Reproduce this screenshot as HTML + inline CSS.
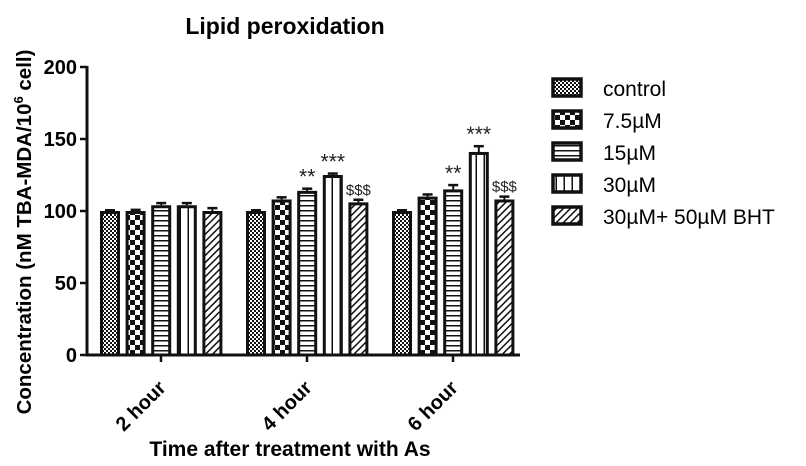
<!DOCTYPE html>
<html><head><meta charset="utf-8"><style>
body{margin:0;background:#fff;width:806px;height:461px;overflow:hidden}
svg text{font-family:"Liberation Sans",Arial,sans-serif}
</style></head><body>
<svg id="c" width="806" height="461">
<defs>
<pattern id="p0" width="4" height="4" patternUnits="userSpaceOnUse"><rect width="4" height="4" fill="#fff"/><rect width="2" height="2" fill="#111"/><rect x="2" y="2" width="2" height="2" fill="#111"/></pattern>
<pattern id="p1" width="10" height="10" patternUnits="userSpaceOnUse"><rect width="10" height="10" fill="#fff"/><rect width="5" height="5" fill="#111"/><rect x="5" y="5" width="5" height="5" fill="#111"/></pattern>
<pattern id="p2" width="6" height="5" patternUnits="userSpaceOnUse"><rect width="6" height="5" fill="#fff"/><rect width="6" height="1.5" fill="#111"/></pattern>
<pattern id="p3" width="8" height="6" patternUnits="userSpaceOnUse"><rect width="8" height="6" fill="#fff"/><rect x="3.5" width="1.5" height="6" fill="#111"/></pattern>
<pattern id="p4" width="5" height="5" patternUnits="userSpaceOnUse" patternTransform="rotate(45)"><rect width="5" height="5" fill="#fff"/><rect width="1.5" height="5" fill="#111"/></pattern>
</defs>
<text x="285" y="34" font-size="23" font-weight="bold" text-anchor="middle">Lipid peroxidation</text>
<text transform="translate(31,232) rotate(-90)" font-size="20.5" font-weight="bold" text-anchor="middle">Concentration (nM TBA-MDA/10<tspan dy="-8" font-size="13">6</tspan><tspan dy="8"> cell)</tspan></text>
<text x="290" y="456" font-size="21" font-weight="bold" text-anchor="middle">Time after treatment with As</text>
<g id="axes"></g><g id="bars"></g><g id="legend"></g>
</svg>
<script>
const categories=["2 hour","4 hour","6 hour"];
const seriesNames=["control","7.5\u00b5M","15\u00b5M","30\u00b5M","30\u00b5M+ 50\u00b5M BHT"];
const values=[[100,100,104,104,100],[100,108,114,125,106],[100,110,115,141,108]];
const errors=[[0.5,0.8,1.5,1.5,2],[0.5,1.5,1.5,1,1.8],[0.5,1.5,3,4,2]];
const marks=[["","","","",""],["","","**","***","$$$"],["","","**","***","$$$"]];
const yTicks=[0,50,100,150,200];
const NS="http://www.w3.org/2000/svg";
const y0=355,yTop=67,yMax=200;
const ys=v=>y0-(v/yMax)*(y0-yTop);
const groupX=i=>100+i*146, barX=(i,j)=>groupX(i)+j*25.6, bw=20;
function mk(t,a,p){const e=document.createElementNS(NS,t);for(const k in a)e.setAttribute(k,a[k]);p.appendChild(e);return e;}
const ax=document.getElementById('axes'),bg=document.getElementById('bars'),lg=document.getElementById('legend');
let yl=mk('line',{x1:87,y1:yTop-1,x2:87,y2:y0+1.5,stroke:'#111','stroke-width':3},ax);


let xl=mk('line',{x1:86,y1:y0,x2:520,y2:y0,stroke:'#111','stroke-width':3},ax);


yTicks.forEach(t=>{
 mk('line',{x1:80,y1:ys(t),x2:87,y2:ys(t),stroke:'#111','stroke-width':2.5},ax);
 const tx=mk('text',{x:77,y:ys(t)+7,'font-size':20,'font-weight':'bold','text-anchor':'end'},ax);tx.textContent=t;
 
 
});
categories.forEach((c,i)=>{
 const cx=groupX(i)+61;
 mk('line',{x1:cx,y1:y0,x2:cx,y2:y0+7,stroke:'#111','stroke-width':2.5},ax);
 const tx=mk('text',{transform:`translate(${cx+6},${y0+34}) rotate(-45)`,'font-size':20,'font-weight':'bold','text-anchor':'end'},ax);tx.textContent=c;
 
 
 values[i].forEach((v,j)=>{
  const x=barX(i,j),top=ys(v),et=ys(v+errors[i][j]);
  mk('line',{x1:x+bw/2,y1:top,x2:x+bw/2,y2:et,stroke:'#111','stroke-width':2},bg);
  mk('line',{x1:x+bw/2-5,y1:et,x2:x+bw/2+5,y2:et,stroke:'#111','stroke-width':2.5},bg);
  const r=mk('rect',{x:x+1.5,y:top+1.5,width:bw-3,height:y0-top-1.5,fill:`url(#p${j})`,stroke:'#111','stroke-width':3},bg);
  
  
  if(marks[i][j]){const m=mk('text',{x:x+bw/2,y:et-5,'font-size':marks[i][j][0]=='$'?15:21,'text-anchor':'middle',fill:'#222'},bg);m.textContent=marks[i][j];
   
   }
 });
});
seriesNames.forEach((s,j)=>{
 const y=79+j*32;
 const g=mk('g',{},lg);
 
 
 mk('rect',{x:553,y:y,width:28,height:17,fill:`url(#p${j})`,stroke:'#111','stroke-width':3.5},g);
 const t=mk('text',{x:603,y:y+17,'font-size':21},g);t.textContent=s;
});
</script>
</body></html>
